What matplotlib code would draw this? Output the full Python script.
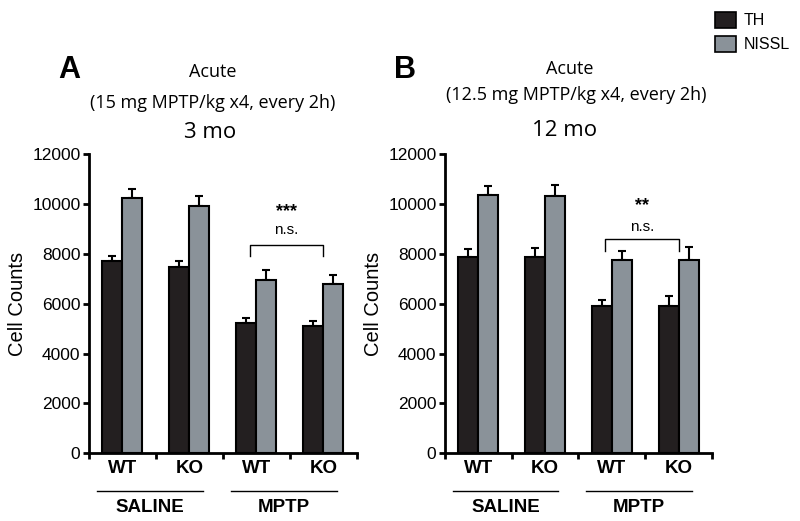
import matplotlib.pyplot as plt
import matplotlib.patches as mpatches
import numpy as np

plt.rcParams['font.family'] = ['Liberation Sans', 'DejaVu Sans']

groups = ['WT', 'KO', 'WT', 'KO']
treatments = ['SALINE', 'MPTP']

# panel A, 3 mo
th_a = [7700, 7480, 5240, 5090]
th_a_err = [230, 250, 200, 200]
nissl_a = [10250, 9940, 6960, 6790]
nissl_a_err = [370, 400, 390, 360]

# panel B, 12 mo
th_b = [7880, 7860, 5920, 5920]
th_b_err = [300, 380, 250, 390]
nissl_b = [10360, 10320, 7750, 7750]
nissl_b_err = [360, 440, 360, 510]

TH_COLOR = '#231f20'
NISSL_COLOR = '#8a9299'
TITLE_FONT = ['Open Sans', 'DejaVu Sans']

fig = plt.figure(figsize=(8, 5.21), dpi=100)
ax_a = fig.add_axes([0.111, 0.130, 0.335, 0.574])
ax_b = fig.add_axes([0.556, 0.130, 0.334, 0.574])


def draw_panel(ax, th, th_err, nissl, nissl_err, stars, bracket_y, ns_y, star_y):
    x = np.arange(len(groups))
    w = 0.3
    ax.bar(x - w / 2, th, w, color=TH_COLOR, edgecolor='black', linewidth=1.5, zorder=2)
    ax.bar(x + w / 2, nissl, w, color=NISSL_COLOR, edgecolor='black', linewidth=1.5, zorder=2)
    ax.errorbar(x - w / 2, th, yerr=[np.zeros(len(th)), th_err], fmt='none',
                ecolor='black', elinewidth=1.5, capsize=3, capthick=1.5, zorder=1)
    ax.errorbar(x + w / 2, nissl, yerr=[np.zeros(len(nissl)), nissl_err], fmt='none',
                ecolor='black', elinewidth=1.5, capsize=3, capthick=1.5, zorder=1)

    ax.set_xlim(-0.5, 3.5)
    ax.set_ylim(0, 12000)
    ax.set_yticks(np.arange(0, 12001, 2000))
    for s in ['top', 'right']:
        ax.spines[s].set_visible(False)
    for s in ['left', 'bottom']:
        ax.spines[s].set_linewidth(2)
    ax.tick_params(axis='y', direction='out', length=4, width=2, labelsize=12.5, pad=2)
    ax.set_xticks([-0.5, 0.5, 1.5, 2.5, 3.5])
    ax.set_xticklabels([])
    ax.set_xticks(x, minor=True)
    ax.set_xticklabels(groups, minor=True, fontweight='bold', fontsize=13.5)
    ax.tick_params(axis='x', which='major', direction='out', length=4, width=2)
    ax.tick_params(axis='x', which='minor', length=0, pad=5)
    ax.set_ylabel('Cell Counts', fontsize=14.5, labelpad=4)

    # treatment group lines and labels
    tr = ax.get_xaxis_transform()
    for cx, name in zip([0.41, 2.41], treatments):
        ax.plot([cx - 0.79, cx + 0.79], [-0.126, -0.126], color='black', lw=1,
                transform=tr, clip_on=False)
        ax.text(cx, -0.183, name, transform=tr, ha='center', va='center',
                fontweight='bold', fontsize=13.5)

    # significance bracket
    ax.plot([1.9, 1.9, 3.0, 3.0], [bracket_y - 450, bracket_y, bracket_y, bracket_y - 450],
            color='black', lw=1)
    ax.text(2.45, ns_y, 'n.s.', ha='center', va='center', fontsize=11)
    ax.text(2.45, star_y, stars, ha='center', va='center', fontsize=13, fontweight='bold')


draw_panel(ax_a, th_a, th_a_err, nissl_a, nissl_a_err, '***', 8360, 8940, 9700)
draw_panel(ax_b, th_b, th_b_err, nissl_b, nissl_b_err, '**', 8580, 9060, 9920)

# panel headings
fig.text(69 / 800, 1 - 70 / 521, 'A', fontsize=22, fontweight='bold', ha='center', va='center')
fig.text(213 / 800, 1 - 72 / 521, 'Acute', fontsize=13, family=TITLE_FONT, ha='center', va='center')
fig.text(213 / 800, 1 - 103 / 521, '(15 mg MPTP/kg x4, every 2h)', fontsize=13,
         family=TITLE_FONT, ha='center', va='center')
fig.text(210 / 800, 1 - 133 / 521, '3 mo', fontsize=16, family=TITLE_FONT, ha='center', va='center')

fig.text(405 / 800, 1 - 70 / 521, 'B', fontsize=22, fontweight='bold', ha='center', va='center')
fig.text(570 / 800, 1 - 69 / 521, 'Acute', fontsize=13, family=TITLE_FONT, ha='center', va='center')
fig.text(576 / 800, 1 - 95 / 521, '(12.5 mg MPTP/kg x4, every 2h)', fontsize=13,
         family=TITLE_FONT, ha='center', va='center')
fig.text(565 / 800, 1 - 130 / 521, '12 mo', fontsize=16, family=TITLE_FONT, ha='center', va='center')

# legend
handles = [mpatches.Patch(facecolor=TH_COLOR, edgecolor='black', lw=1.2, label='TH'),
           mpatches.Patch(facecolor=NISSL_COLOR, edgecolor='black', lw=1.2, label='NISSL')]
fig.legend(handles=handles, loc='upper left', bbox_to_anchor=(0.876, 1.005), frameon=False,
           fontsize=11.5, handlelength=1.3, handleheight=1.2, handletextpad=0.5, labelspacing=0.45)

fig.savefig('out.png', dpi=100)
